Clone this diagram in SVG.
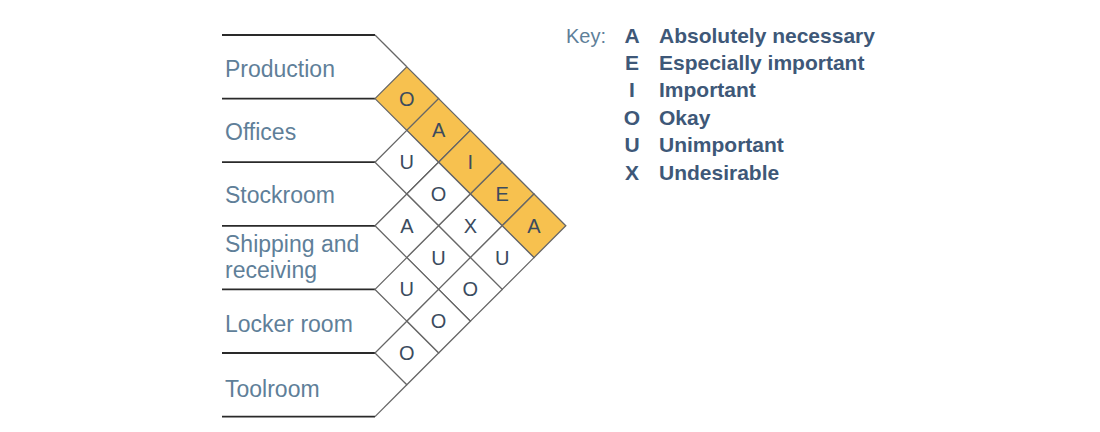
<svg xmlns="http://www.w3.org/2000/svg" xmlns:xlink="http://www.w3.org/1999/xlink" width="1100" height="432" viewBox="0 0 1100 432">
<style>
.lbl{font-family:"Liberation Sans",Arial,sans-serif;font-size:23px;fill:#5f7f99}
.cell{stroke:#666;stroke-width:1.3}
.org{fill:#F7C14F}
.wht{fill:#fff}
.ct{font-family:"Liberation Sans",Arial,sans-serif;font-size:20px;fill:#3b4b5e;text-anchor:middle}
.row{stroke:#2a2a2a;stroke-width:1.8;fill:none}
.edge{stroke:#666;stroke-width:1.3;fill:none}
.key{font-family:"Liberation Sans",Arial,sans-serif;font-size:21px;fill:#3e5878;font-weight:bold}
.keyh{font-family:"Liberation Sans",Arial,sans-serif;font-size:20px;fill:#5f7f99}
</style>
<defs>
<path id="dm" d="M-31.8,0 L0,-31.8 L31.8,0 L0,31.8Z"/>
</defs>
<rect width="1100" height="432" fill="#fff"/>
<g id="connectors">
<line class="row" x1="222" y1="35" x2="375" y2="35" stroke="#888"/>
<line class="row" x1="222" y1="98.6" x2="375" y2="98.6"/>
<line class="row" x1="222" y1="162.2" x2="375" y2="162.2"/>
<line class="row" x1="222" y1="225.8" x2="375" y2="225.8"/>
<line class="row" x1="222" y1="289.4" x2="375" y2="289.4"/>
<line class="row" x1="222" y1="353" x2="375" y2="353"/>
<line class="row" x1="222" y1="416.6" x2="375" y2="416.6"/>
<line class="edge" x1="375" y1="35" x2="406.8" y2="66.8"/>
<line class="edge" x1="375" y1="416.6" x2="406.8" y2="384.8"/>
</g>
<g id="label-production"><text class="lbl" x="225" y="77">Production</text></g>
<g id="label-offices"><text class="lbl" x="225" y="140">Offices</text></g>
<g id="label-stockroom"><text class="lbl" x="225" y="203">Stockroom</text></g>
<g id="label-shipping"><text class="lbl" x="225" y="252">Shipping and</text><text class="lbl" x="225" y="278">receiving</text></g>
<g id="label-locker"><text class="lbl" x="225" y="332">Locker room</text></g>
<g id="label-toolroom"><text class="lbl" x="225" y="397">Toolroom</text></g>
<g id="cell-0-1"><use xlink:href="#dm" class="cell org" x="406.8" y="98.6"/><text class="ct" x="406.8" y="105.6">O</text></g>
<g id="cell-0-2"><use xlink:href="#dm" class="cell org" x="438.6" y="130.4"/><text class="ct" x="438.6" y="137.4">A</text></g>
<g id="cell-0-3"><use xlink:href="#dm" class="cell org" x="470.4" y="162.2"/><text class="ct" x="470.4" y="169.2">I</text></g>
<g id="cell-0-4"><use xlink:href="#dm" class="cell org" x="502.2" y="194"/><text class="ct" x="502.2" y="201">E</text></g>
<g id="cell-0-5"><use xlink:href="#dm" class="cell org" x="534" y="225.8"/><text class="ct" x="534" y="232.8">A</text></g>
<g id="cell-1-2"><use xlink:href="#dm" class="cell wht" x="406.8" y="162.2"/><text class="ct" x="406.8" y="169.2">U</text></g>
<g id="cell-1-3"><use xlink:href="#dm" class="cell wht" x="438.6" y="194"/><text class="ct" x="438.6" y="201">O</text></g>
<g id="cell-1-4"><use xlink:href="#dm" class="cell wht" x="470.4" y="225.8"/><text class="ct" x="470.4" y="232.8">X</text></g>
<g id="cell-1-5"><use xlink:href="#dm" class="cell wht" x="502.2" y="257.6"/><text class="ct" x="502.2" y="264.6">U</text></g>
<g id="cell-2-3"><use xlink:href="#dm" class="cell wht" x="406.8" y="225.8"/><text class="ct" x="406.8" y="232.8">A</text></g>
<g id="cell-2-4"><use xlink:href="#dm" class="cell wht" x="438.6" y="257.6"/><text class="ct" x="438.6" y="264.6">U</text></g>
<g id="cell-2-5"><use xlink:href="#dm" class="cell wht" x="470.4" y="289.4"/><text class="ct" x="470.4" y="296.4">O</text></g>
<g id="cell-3-4"><use xlink:href="#dm" class="cell wht" x="406.8" y="289.4"/><text class="ct" x="406.8" y="296.4">U</text></g>
<g id="cell-3-5"><use xlink:href="#dm" class="cell wht" x="438.6" y="321.2"/><text class="ct" x="438.6" y="328.2">O</text></g>
<g id="cell-4-5"><use xlink:href="#dm" class="cell wht" x="406.8" y="353"/><text class="ct" x="406.8" y="360">O</text></g>
<g id="key">
<text class="keyh" x="566" y="43">Key:</text>
<text class="key" x="632" y="43" text-anchor="middle">A</text><text class="key" x="659" y="43">Absolutely necessary</text>
<text class="key" x="632" y="70" text-anchor="middle">E</text><text class="key" x="659" y="70">Especially important</text>
<text class="key" x="632" y="97" text-anchor="middle">I</text><text class="key" x="659" y="97">Important</text>
<text class="key" x="632" y="125" text-anchor="middle">O</text><text class="key" x="659" y="125">Okay</text>
<text class="key" x="632" y="152" text-anchor="middle">U</text><text class="key" x="659" y="152">Unimportant</text>
<text class="key" x="632" y="180" text-anchor="middle">X</text><text class="key" x="659" y="180">Undesirable</text>
</g>
</svg>
